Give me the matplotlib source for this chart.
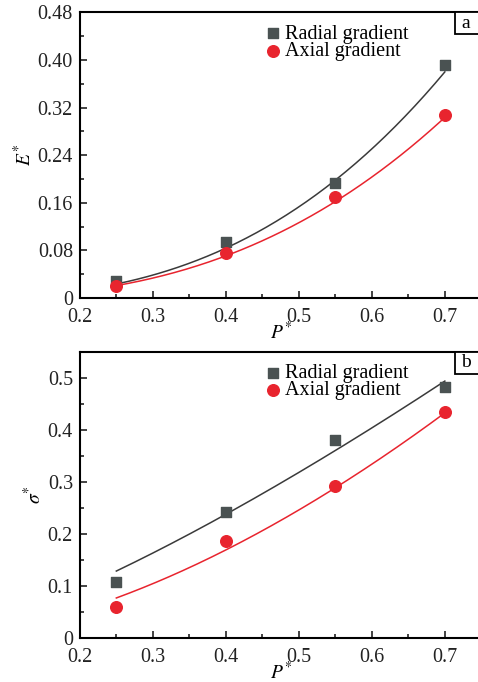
import numpy as np
import matplotlib.pyplot as plt
from matplotlib.patches import Rectangle
from matplotlib.ticker import MultipleLocator

# --- data ---
p = [0.25, 0.40, 0.55, 0.70]
e_radial = [0.0285, 0.0935, 0.194, 0.391]
e_axial = [0.021, 0.075, 0.169, 0.307]
s_radial = [0.108, 0.243, 0.381, 0.482]
s_axial = [0.060, 0.186, 0.292, 0.434]

# power-law fit curves y = c * P^n, coefficients
fit_e_radial = (0.995, 2.70)
fit_e_axial = (0.767, 2.60)
fit_s_radial = (0.787, 1.306)
fit_s_axial = (0.787, 1.677)

grey = '#4a5252'
red = '#e8242e'

plt.rcParams['font.family'] = ['Liberation Serif', 'DejaVu Serif']
plt.rcParams['mathtext.fontset'] = 'stix'

fig = plt.figure(figsize=(4.78, 6.82), dpi=100)
ax1 = fig.add_axes([0.167, 0.563, 0.840, 0.419])
ax2 = fig.add_axes([0.167, 0.0645, 0.840, 0.4195])


def panel(ax, yr, ya, fr, fa, ylim, major, ylabel, tag):
    xs = np.linspace(min(p), max(p), 200)
    ax.plot(xs, fr[0] * xs ** fr[1], color='#3a3a3a', lw=1.1)
    ax.plot(xs, fa[0] * xs ** fa[1], color=red, lw=1.1)
    ax.scatter(p, yr, marker='s', s=55, color=grey, zorder=5, label='Radial gradient')
    ax.scatter(p, ya, marker='o', s=70, color=red, zorder=5, label='Axial gradient')

    ax.set_xlim(0.2, 0.75)
    ax.set_ylim(*ylim)
    ax.xaxis.set_major_locator(MultipleLocator(0.1))
    ax.xaxis.set_minor_locator(MultipleLocator(0.05))
    ax.yaxis.set_major_locator(MultipleLocator(major))
    ax.yaxis.set_minor_locator(MultipleLocator(major / 2))
    ax.tick_params(which='both', direction='in', labelsize=14.5, width=1.2, colors='#222222')
    ax.tick_params(which='major', length=5)
    ax.tick_params(which='minor', length=3)
    ax.tick_params(axis='x', pad=7)
    ax.tick_params(axis='y', pad=5)
    for s in ax.spines.values():
        s.set_linewidth(1.5)
    ax.spines['right'].set_visible(False)

    ax.set_xlabel(r'$P^{*}$', fontsize=14, labelpad=-4)
    ax.set_ylabel(ylabel, fontsize=14, labelpad=2)

    ax.legend(loc='upper left', bbox_to_anchor=(0.41, 1.02), frameon=False,
              fontsize=14.5, handletextpad=0.1, borderpad=0.4, labelspacing=-0.1,
              handlelength=1.0, scatterpoints=1)

    ax.add_patch(Rectangle((0.934, 1 - 22 / 286), 0.1, 22 / 286, transform=ax.transAxes,
                           fc='white', ec='black', lw=1.3, clip_on=False, zorder=6))
    ax.text(0.962, 1 - 11 / 286, tag, transform=ax.transAxes, ha='center', va='center',
            fontsize=14, zorder=7)


panel(ax1, e_radial, e_axial, fit_e_radial, fit_e_axial, (0, 0.48), 0.08, r'$E^{*}$', 'a')
ax1.yaxis.set_major_formatter(plt.FuncFormatter(lambda v, _: '0' if v == 0 else f'{v:.2f}'))
panel(ax2, s_radial, s_axial, fit_s_radial, fit_s_axial, (0, 0.55), 0.1, r'$\sigma^{*}$', 'b')
ax2.yaxis.set_major_formatter(plt.FuncFormatter(lambda v, _: '0' if v == 0 else f'{v:.1f}'))

fig.savefig('out.png', dpi=100)
